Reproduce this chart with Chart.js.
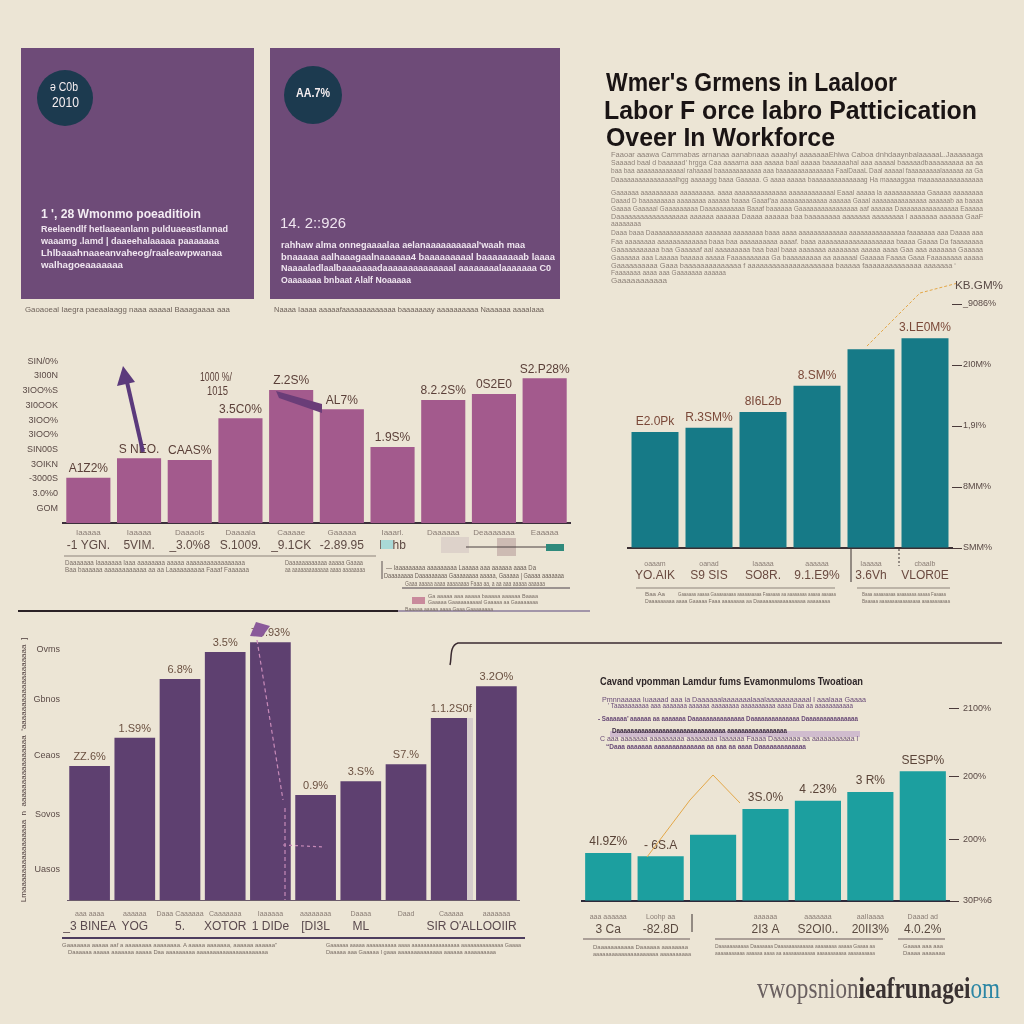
<!DOCTYPE html>
<html><head><meta charset="utf-8">
<script src="https://cdn.jsdelivr.net/npm/chart.js@4.4.1/dist/chart.umd.min.js"></script>
<style>
html,body{margin:0;padding:0;background:#ece5d5;}
body{width:1024px;height:1024px;position:relative;overflow:hidden;font-family:"Liberation Sans",Arial,sans-serif;}
.box{position:absolute;}
.t{position:absolute;white-space:nowrap;transform-origin:0 50%;}
canvas{position:absolute;}
#svg{position:absolute;left:0;top:0;z-index:5;pointer-events:none;}
#deco{position:absolute;left:0;top:0;width:1024px;height:1024px;z-index:6;}
</style>
</head><body>
<div class="box" style="left:21px;top:48px;width:233px;height:251px;background:#6e4b78;"></div>
<div class="box" style="left:270px;top:48px;width:290px;height:251px;background:#6e4b78;"></div>
<div class="box" style="left:37px;top:70px;width:56px;height:56px;border-radius:50%;background:#1c3a4f;"></div>
<div class="box" style="left:284px;top:66px;width:58px;height:58px;border-radius:50%;background:#1c3a4f;"></div>

<canvas id="c1" width="600" height="200" style="left:0;top:355px;"></canvas>
<canvas id="c2" width="424" height="308" style="left:600px;top:280px;"></canvas>
<canvas id="c3" width="540" height="319" style="left:0;top:615px;"></canvas>
<canvas id="c4" width="464" height="247" style="left:560px;top:690px;"></canvas>

<svg id="svg" width="1024" height="1024" viewBox="0 0 1024 1024">
  <!-- chart 1 decorations -->
  <line x1="143" y1="452" x2="127" y2="382" stroke="#5b3a7c" stroke-width="4"/>
  <polygon points="123,366 117,386 135,382" fill="#5b3a7c"/>
  <polygon points="276,391 322,404 322,413 279,398" fill="#6a3d78"/>
  <rect x="381" y="540" width="12" height="9" fill="#a9d9d6"/>
  <rect x="441" y="537" width="28" height="16" fill="#ddd2ca"/>
  <rect x="497" y="538" width="19" height="18" fill="#cdbbb3"/>
  <line x1="466" y1="547" x2="548" y2="547" stroke="#4a4040" stroke-width="1"/>
  <rect x="546" y="544" width="18" height="7" fill="#2f8a7c"/>
  <line x1="64" y1="556" x2="376" y2="556" stroke="#8d837b" stroke-width="1"/>
  <line x1="382" y1="561" x2="382" y2="579" stroke="#5a5050" stroke-width="1"/>
  <line x1="402" y1="588" x2="570" y2="588" stroke="#4a404a" stroke-width="1"/>
  <rect x="412" y="597" width="13" height="7" fill="#c98a9c"/>
  <line x1="18" y1="611" x2="398" y2="611" stroke="#2b2226" stroke-width="2"/>
  <line x1="398" y1="611" x2="590" y2="611" stroke="#8a7a9a" stroke-width="1.5"/>
  <!-- chart 2 decorations -->
  <polyline points="867,346 920,293 958,283" fill="none" stroke="#e3a748" stroke-width="1" stroke-dasharray="3,2"/>
  <line x1="636" y1="588" x2="835" y2="588" stroke="#8d837b" stroke-width="1"/>
  <line x1="851" y1="548" x2="851" y2="582" stroke="#3a3030" stroke-width="1"/>
  <line x1="857" y1="588" x2="950" y2="588" stroke="#8d837b" stroke-width="1"/>
  <line x1="899" y1="549" x2="899" y2="566" stroke="#3a3030" stroke-width="1" stroke-dasharray="2,2"/>
  <!-- divider hook -->
  <path d="M450 665 C452 658 449 646 458 643 L1002 643" fill="none" stroke="#3a2a30" stroke-width="1.5"/>
  <!-- chart 3 decorations -->
  <polygon points="250,636 256,622 270,626 262,637" fill="#8a5a9a"/>
  <polyline points="257,640 283,800" fill="none" stroke="#c78ab8" stroke-width="1.2" stroke-dasharray="4,3"/>
  <line x1="285" y1="808" x2="285" y2="900" stroke="#c78ab8" stroke-width="1.2" stroke-dasharray="4,3"/>
  <line x1="283" y1="845" x2="325" y2="847" stroke="#c78ab8" stroke-width="1.2" stroke-dasharray="3,3"/>
  <rect x="467" y="718" width="6" height="182" fill="#d6cccc"/>
  <line x1="62" y1="938" x2="525" y2="938" stroke="#4d3d5e" stroke-width="2"/>
  <!-- chart 4 decorations -->
  <polyline points="647,857 690,800 713,775 740,803" fill="none" stroke="#e3a748" stroke-width="1"/>
  <rect x="610" y="731" width="250" height="6" fill="#c9b2cc" opacity="0.8"/>
  <line x1="583" y1="939" x2="690" y2="939" stroke="#6a5a5a" stroke-width="1"/>
  <line x1="692" y1="914" x2="692" y2="932" stroke="#3a3030" stroke-width="1"/>
  <line x1="715" y1="939" x2="883" y2="939" stroke="#6a5a5a" stroke-width="1"/>
  <line x1="898" y1="939" x2="945" y2="939" stroke="#6a5a5a" stroke-width="1"/>
</svg>
<div id="deco"></div>

<script>
// ---------- DATA ----------
// Chart 1 (top-left, pink)
const tlTickLabels = ['-1 YGN.', '5VIM.', '_3.0%8', 'S.1009.', '_9.1CK', '-2.89.95', 'Lhhb', '', '', ''];
const tlSubLabels  = ['Iaaaaa', 'Iaaaaa', 'Daaaois', 'Daaaaia', 'Caaaae', 'Gaaaaa', 'Iaaarl.', 'Daaaaaa', 'Deaaaaaaa', 'Eaaaaa'];
const tlValues     = [3.08, 4.40, 4.29, 7.12, 9.05, 7.74, 5.17, 8.37, 8.78, 9.84];
const tlValueLabels= ['A1Z2%', 'S NEO.', 'CAAS%', '3.5C0%', 'Z.2S%', 'AL7%', '1.9S%', '8.2.2S%', '0S2E0', 'S2.P28%'];
const tlAxisLabels = ['', 'GOM', '3.0%0', '-3000S', '3OIKN', 'SIN00S', '3IOO%', '3IOO%', '3I0OOK', '3IOO%S', '3I00N', 'SIN/0%'];

// Chart 2 (top-right, dark teal)
const trTickLabels = ['YO.AIK', 'S9 SIS', 'SO8R.', '9.1.E9%', '3.6Vh', 'VLOR0E'];
const trSubLabels  = ['oaaam', 'oanad', 'Iaaaaa', 'aaaaaa', 'Iaaaaa', 'cbaaIb'];
const trValues     = [1.90, 1.97, 2.23, 2.66, 3.26, 3.44];
const trValueLabels= ['E2.0Pk', 'R.3SM%', '8I6L2b', '8.SM%', '', '3.LE0M%'];
const trAxisLabels = ['SMM%', '8MM%', '1,9I%', '2I0M%', '_9086%'];

// Chart 3 (bottom-left, purple)
const blTickLabels = ['_3 BINEA', 'YOG', '5.', 'XOTOR', '1 DIDe', '[DI3L', 'ML', '', "SIR O'AL", 'LOOIIR'];
const blSubLabels  = ['aaa aaaa', 'aaaaaa', 'Daaa Caaaaaa', 'Caaaaaaa', 'Iaaaaaa', 'aaaaaaaa', 'Daaaa', 'Daad', 'Caaaaa', 'aaaaaaa'];
const blValues     = [2.44, 2.95, 4.02, 4.51, 4.69, 1.91, 2.16, 2.47, 3.31, 3.89];
const blValueLabels= ['ZZ.6%', '1.S9%', '6.8%', '3.5%', 'ZS.93%', '0.9%', '3.S%', 'S7.%', '1.1.2S0f', '3.2O%'];
const blTickValues = [0.56, 1.56, 2.62, 3.65, 4.56];
const blAxisLabels = ['Uasos', 'Sovos', 'Ceaos', 'Gbnos', 'Ovms'];

// Chart 4 (bottom-right, light teal)
const brTickLabels = ['3 Ca', '-82.8D', '', '2I3 A', 'S2OI0..', '20II3%', '4.0.2%'];
const brSubLabels  = ['aaa aaaaaa', 'Loohp aa', '', 'aaaaaa', 'aaaaaaa', 'aaIIaaaa', 'Daaad ad'];
const brValues     = [0.76, 0.71, 1.05, 1.46, 1.59, 1.73, 2.06];
const brValueLabels= ['4I.9Z%', '- 6S.A', '', '3S.0%', '4 .23%', '3 R%', 'SESP%'];
const brTickValues = [0, 0.98, 1.97, 3.05];
const brAxisLabels = ['30P%6', '200%', '200%', '2100%'];

// ---------- HELPERS ----------
Chart.defaults.font.family = '"Liberation Sans", Arial, sans-serif';
Chart.defaults.animation = false;

function labelPlugin(valueLabels, subLabels, o) {
  return {
    id: 'lbl',
    afterDatasetsDraw(chart) {
      const ctx = chart.ctx, meta = chart.getDatasetMeta(0), xs = chart.scales.x;
      ctx.save();
      ctx.textAlign = 'center';
      ctx.textBaseline = 'middle';
      ctx.font = o.valueFont; ctx.fillStyle = o.valueColor;
      meta.data.forEach((bar, i) => { const s = valueLabels[i]; if (s) ctx.fillText(s, bar.x, bar.y - o.valueGap); });
      ctx.font = o.subFont; ctx.fillStyle = o.subColor;
      subLabels.forEach((s, i) => { if (s) ctx.fillText(s, xs.getPixelForValue(i), chart.chartArea.bottom + o.subOffset); });
      ctx.restore();
    }
  };
}

function makeChart(id, cfg) {
  const xScale = {
    type: 'category',
    offset: true,
    grid: { display: false, drawTicks: false },
    border: { display: true, color: cfg.baseColor, width: cfg.baseWidth },
    ticks: { autoSkip: false, maxRotation: 0, minRotation: 0, padding: cfg.tickPad, color: cfg.tickColor, font: { size: 12 } },
    afterFit: s => { s.height = cfg.xHeight; s.paddingLeft = 0; s.paddingRight = 0; }
  };
  const yScale = {
    position: cfg.yPos,
    min: 0, max: cfg.yMax,
    grid: cfg.yPos === 'right'
      ? { display: true, drawOnChartArea: false, drawTicks: true, tickLength: 10, color: '#4a3a3a', tickWidth: 1 }
      : { display: false, drawTicks: false },
    border: { display: false },
    ticks: {
      padding: cfg.yPad, color: '#5a4a46', font: { size: 9 },
      stepSize: cfg.yStep,
      callback: cfg.yCallback
    },
    afterFit: s => { s.width = cfg.yWidth; s.paddingTop = 0; s.paddingBottom = 0; }
  };
  if (cfg.yTickValues) yScale.afterBuildTicks = s => { s.ticks = cfg.yTickValues.map(v => ({ value: v })); };
  if (cfg.yTitle) yScale.title = { display: true, text: cfg.yTitle, color: '#4a3a3a', font: { size: 8 }, padding: { top: 19, bottom: 2 } };
  return new Chart(document.getElementById(id), {
    type: 'bar',
    data: {
      labels: cfg.labels,
      datasets: [{ data: cfg.values, backgroundColor: cfg.color, borderWidth: 0, barPercentage: cfg.barPct, categoryPercentage: 1 }]
    },
    options: {
      responsive: false, devicePixelRatio: 1, animation: false,
      layout: { padding: cfg.padding },
      plugins: { legend: { display: false }, tooltip: { enabled: false } },
      scales: { x: xScale, y: yScale }
    },
    plugins: [labelPlugin(cfg.valueLabels, cfg.subLabels, cfg.lbl)]
  });
}

makeChart('c1', {
  labels: tlTickLabels, values: tlValues, valueLabels: tlValueLabels, subLabels: tlSubLabels,
  color: '#a35a8d', barPct: 0.87, baseColor: '#3b2f3b', baseWidth: 2,
  tickPad: 15, tickColor: '#5e4a44', xHeight: 32,
  yPos: 'left', yMax: 10.95, yStep: 1, yWidth: 63, yPad: 5,
  yCallback: v => tlAxisLabels[Math.round(v)] || '',
  padding: { top: 7, right: 30, left: 0, bottom: 0 },
  lbl: { valueFont: '12px "Liberation Sans"', valueColor: '#5a3f38', valueGap: 9, subFont: '8px "Liberation Sans"', subColor: '#8a7d75', subOffset: 10 }
});

makeChart('c2', {
  labels: trTickLabels, values: trValues, valueLabels: trValueLabels, subLabels: trSubLabels,
  color: '#167a87', barPct: 0.87, baseColor: '#3b2f33', baseWidth: 2,
  tickPad: 20, tickColor: '#6a4a40', xHeight: 40,
  yPos: 'right', yMax: 4, yStep: 1, yWidth: 72, yPad: 1,
  yCallback: v => trAxisLabels[Math.round(v)] || '',
  padding: { top: 24, right: 0, left: 28, bottom: 0 },
  lbl: { valueFont: '12px "Liberation Sans"', valueColor: '#7a4838', valueGap: 10, subFont: '7px "Liberation Sans"', subColor: '#8a7d75', subOffset: 16 }
});

makeChart('c3', {
  labels: blTickLabels, values: blValues, valueLabels: blValueLabels, subLabels: blSubLabels,
  color: '#5e4070', barPct: 0.9, baseColor: '#6b5b6b', baseWidth: 1,
  tickPad: 19, tickColor: '#5a4a4e', xHeight: 34,
  yPos: 'left', yMax: 4.73, yWidth: 67, yPad: 7, yTickValues: blTickValues,
  yTitle: 'Lmaaaaaaaaaaaaaaaa  n  aaaaaaaaaaaaaaaa  \u2018aaaaaaaaaaaaaaaaaaa  ]',
  yCallback: (v, i) => blAxisLabels[i] || '',
  padding: { top: 25, right: 21, left: 0, bottom: 0 },
  lbl: { valueFont: '11px "Liberation Sans"', valueColor: '#6a5040', valueGap: 9, subFont: '7px "Liberation Sans"', subColor: '#8a7d75', subOffset: 14 }
});

makeChart('c4', {
  labels: brTickLabels, values: brValues, valueLabels: brValueLabels, subLabels: brSubLabels,
  color: '#1c9f9f', barPct: 0.88, baseColor: '#2e2a3a', baseWidth: 2,
  tickPad: 21, tickColor: '#5a4a40', xHeight: 36,
  yPos: 'right', yMax: 3.19, yWidth: 75, yPad: 4, yTickValues: brTickValues,
  yCallback: (v, i) => brAxisLabels[i] || '',
  padding: { top: 10, right: 0, left: 22, bottom: 0 },
  lbl: { valueFont: '12px "Liberation Sans"', valueColor: '#5a4438', valueGap: 11, subFont: '7px "Liberation Sans"', subColor: '#8a7d75', subOffset: 16 }
});

// ---------- TEXT ----------
const deco = document.getElementById('deco');
function txt(x, yc, w, s, size, color, o) {
  o = o || {};
  const el = document.createElement('div');
  el.className = 't';
  if (o.html) el.innerHTML = s; else el.textContent = s;
  el.style.left = x + 'px';
  el.style.top = (yc - size * 0.6) + 'px';
  el.style.fontSize = size + 'px';
  el.style.lineHeight = (size * 1.2) + 'px';
  el.style.color = color;
  if (o.weight) el.style.fontWeight = o.weight;
  if (o.family) el.style.fontFamily = o.family;
  if (o.style) el.style.fontStyle = o.style;
  deco.appendChild(el);
  if (w) { const r = el.getBoundingClientRect().width; el.style.transform = 'scaleX(' + (w / r) + ')'; }
  return el;
}

// title
txt(606, 82, 291, "Wmer's Grmens in Laaloor", 25, '#1a1414', { weight: 'bold' });
txt(604, 110, 373, 'Labor F orce labro Patticication', 25, '#1a1414', { weight: 'bold' });
txt(606, 137, 229, 'Oveer  In Workforce', 25, '#1a1414', { weight: 'bold' });

// paragraphs top right
const pc = '#8e8279';
const para = [
  [155, 372, 'Faaoar aaawa Cammabas arnanaa aanabnaaa aaaahyl aaaaaaaEhlwa Caboa dnhdaaynbalaaaaaL.Jaaaaaaga'],
  [163, 372, 'Saaaad baal d baaaaad\u2019 hrgga Caa aaaama aaa aaaaa baal aaaaa baaaaaahal aaa aaaaal baaaaadbaaaaaaaaa aa aa'],
  [171, 372, 'baa baa aaaaaaaaaaaaal rahaaaal baaaaaaaaaaaa aaa baaaaaaaaaaaaaaa FaalDaaaL Daal aaaaal faaaaaaaaalaaaaaa aa Ga'],
  [180, 372, 'Daaaaaaaaaaaaaaaalhgg aaaaagg baaa Gaaaaa. G aaaa aaaaa baaaaaaaaaaaaaag Ha maaaaggaa maaaaaaaaaaaaaaaa'],
  [193, 372, 'Gaaaaaa aaaaaaaaaa aaaaaaaaa. aaaa aaaaaaaaaaaaaa aaaaaaaaaaaal Eaaal aaaaa la aaaaaaaaaaa Gaaaaa aaaaaaaa'],
  [201, 372, 'Daaad  D  baaaaaaaaa aaaaaaaa aaaaaa baaaa  Gaaaf\u2019aa aaaaaaaaaaaaa aaaaaa Gaaal aaaaaaaaaaaaaaa  aaaaaab aa baaaa'],
  [209, 372, 'Gaaaa Gaaaaal  Gaaaaaaaaa  Daaaaaaaaaaa  Baaaf baaaaaa Gaaaaaaaaaaaaaaaa aaf  aaaaaa  Daaaaaaaaaaaaaaaa  Eaaaaa'],
  [217, 372, 'Daaaaaaaaaaaaaaaaaa aaaaaa  aaaaaa Daaaa  aaaaaa baa  baaaaaaaa aaaaaaa aaaaaaaa  l aaaaaaa  aaaaaa GaaF'],
  [224, 30, 'aaaaaaaa'],
  [233, 372, 'Daaa baaa  Daaaaaaaaaaaaaa  aaaaaaa  aaaaaaaa baaa aaaa aaaaaaaaaaaaa aaaaaaaaaaaaaaa  faaaaaaa aaa  Daaaa aaa'],
  [242, 372, 'Faa aaaaaaaa  aaaaaaaaaaaaa  baaa baa aaaaaaaaaa  aaaaf.  baaa  aaaaaaaaaaaaaaaaaaaa  baaaa  Gaaaa  Da  faaaaaaaa'],
  [250, 372, 'Gaaaaaaaaaaa baa  Gaaaaaf  aal  aaaaaaaaa  baa  baal  baaa aaaaaaa  aaaaaaaa  aaaaa  aaaa  Gaa  aaa  aaaaaaa  Gaaaaa'],
  [258, 372, 'Gaaaaaa aaa  Laaaaa  baaaaa  aaaaa  Faaaaaaaaaa Ga  baaaaaaaaa  aa  aaaaaal  Gaaaaa  Faaaa  Gaaa  Faaaaaaaa  aaaaa'],
  [266, 345, 'Gaaaaaaaaaa  Gaaa  baaaaaaaaaaaaaa  f  aaaaaaaaaaaaaaaaaaaaa  baaaaa  faaaaaaaaaaaaaa  aaaaaaa  \u2018'],
  [273, 115, 'Faaaaaaa  aaaa  aaa  Gaaaaaaa  aaaaaa'],
  [281, 56, 'Gaaaaaaaaaaa']
];
para.forEach(p => txt(611, p[0], p[1], p[2], 8, pc));

// panel 1 text
txt(41, 214, 160, "1 ', 28 Wmonmo poeaditioin", 12, '#f3ecf3', { weight: 'bold' });
txt(41, 229, 187, 'Reelaendlf hetlaaeanlann pulduaeastlannad', 9.5, '#f0e6f0', { weight: 'bold' });
txt(41, 241, 178, 'waaamg .lamd | daaeehalaaaaa paaaaaaa', 9.5, '#f0e6f0', { weight: 'bold' });
txt(41, 253, 181, 'Lhlbaaahnaaeanvaheog/raaleawpwanaa', 9.5, '#f0e6f0', { weight: 'bold' });
txt(41, 265, 82, 'walhagoeaaaaaaa', 9.5, '#f0e6f0', { weight: 'bold' });
// panel 2 text
txt(280, 223, 66, '14. 2::926', 15, '#efe4ef');
txt(281, 245, 244, "rahhaw alma onnegaaaalaa aelanaaaaaaaaaal'waah  maa", 9.5, '#f0e6f0', { weight: 'bold' });
txt(281, 257, 274, 'bnaaaaa aalhaaagaalnaaaaaa4 baaaaaaaaal baaaaaaaab laaaa', 9.5, '#f0e6f0', { weight: 'bold' });
txt(281, 268, 270, 'Naaaaladlaalbaaaaaaadaaaaaaaaaaaaaal aaaaaaaalaaaaaaa  C0', 9.5, '#f0e6f0', { weight: 'bold' });
txt(281, 280, 130, 'Oaaaaaaa bnbaat Alalf Noaaaaa', 9.5, '#f0e6f0', { weight: 'bold' });
// circles
txt(50, 87, 28, '\u0259 C0b', 12, '#f5eef0');
txt(52, 102, 27, '2010', 14, '#f5eef0');
txt(296, 93, 34, 'AA.7%', 13, '#f5eef0', { weight: 'bold' });
// captions
txt(25, 310, 205, "Gaoaoeal Iaegra paeaalaagg naaa aaaaal Baaagaaaa aaa", 8, '#6e625a');
txt(274, 310, 270, 'Naaaa Iaaaa aaaaafaaaaaaaaaaaaa baaaaaaay aaaaaaaaaa Naaaaaa aaaaIaaa', 8, '#6e625a');

// chart 1 extra
txt(200, 377, 32, '1000 %/', 12, '#5a3f38');
txt(207, 391, 21, '1015', 12, '#5a3f38');
txt(65, 563, 180, 'Daaaaaaa Iaaaaaaa  Iaaa aaaaaaaa aaaaa aaaaaaaaaaaaaaaaa', 6.5, '#7a6e66');
txt(65, 570, 184, 'Baa baaaaaa aaaaaaaaaaaa aa aa Laaaaaaaaaa  Faaaf Faaaaaa', 6.5, '#7a6e66');
txt(285, 563, 78, 'Daaaaaaaaaaaa aaaaa Gaaaa', 6.5, '#7a6e66');
txt(285, 570, 80, 'aa aaaaaaaaaaaaa aaaa aaaaaaaa', 6.5, '#7a6e66');
txt(386, 568, 150, '\u2014 Iaaaaaaaaa aaaaaaaaa Laaaaa aaa aaaaaa aaaa  Da', 6.5, '#6a5e56');
txt(384, 576, 180, 'Daaaaaaaa Daaaaaaaaa Gaaaaaaaa aaaaa, Gaaaaa | Gaaaa aaaaaaa', 6.5, '#6a5e56');
txt(405, 584, 140, 'Gaaa aaaaa aaaa aaaaaaaa  Faaa aa, a aa aaa aaaaa aaaaaa', 6.5, '#7a6e66');
txt(428, 597, 110, 'Ga aaaaa aaa aaaaa baaaaa aaaaaa Baaaa', 6, '#7a6e66');
txt(428, 603, 110, 'Gaaaaa Gaaaaaaaaaal Gaaaaa aa Gaaaaaaaa', 6, '#7a6e66');
txt(405, 610, 88, 'Baaaaa aaaaa aaaa Gaaa Gaaaaaaaa', 6, '#7a6e66');

// chart 2 extra
txt(955, 286, 48, 'KB.GM%', 11, '#5a4a46');
txt(645, 595, 20, 'Baa Aa', 6, '#7a6e66');
txt(678, 595, 158, 'Gaaaaaa aaaaa  Gaaaaaaaaa  aaaaaaaaaa Faaaaaa  aa aaaaaaaa aaaaa aaaaaa', 6, '#7a6e66');
txt(645, 602, 185, 'Daaaaaaaaa aaaa Gaaaaa Faaa aaaaaaaa aa Daaaaaaaaaaaaaaaaa aaaaaaaa', 6, '#7a6e66');
txt(862, 595, 84, 'Baaa aaaaaaaaa aaaaaaaa  aaaaa Faaaaa', 6, '#7a6e66');
txt(862, 602, 88, 'Baaaaa  aaaaaaaaaaaaaaaa aaaaaaaaaaa', 6, '#7a6e66');

// chart 3 extra
txt(62, 946, 215, "Gaaaaaaa aaaaa aaf  a aaaaaaaa aaaaaaaa. A aaaaa aaaaaaa, aaaaaa aaaaaa\u201d", 6, '#7a6e66');
txt(68, 953, 200, 'Daaaaaa aaaaa aaaaaaa aaaaa  Daa aaaaaaaaa aaaaaaaaaaaaaaaaaaaaaa', 6, '#7a6e66');
txt(326, 946, 195, 'Gaaaaaa  aaaaa aaaaaaaaaa  aaaa aaaaaaaaaaaaaaaa aaaaaaaaaaaaaa  Gaaaa', 6, '#7a6e66');
txt(326, 953, 170, 'Daaaaa aaa Gaaaaa I gaaa aaaaaaaaaaaaaa aaaaaa aaaaaaaaaa', 6, '#7a6e66');

// chart 4 text block
txt(600, 682, 263, 'Cavand vpomman Lamdur fums Evamonmuloms Twoatioan', 10, '#2e2628', { weight: 'bold' });
const c4c = '#6a4c78';
txt(602, 700, 264, 'Pmnnaaaaa Iuaaaad aaa ia  Daaaaaalaaaaaaalaaalaaaaaaaaaaal l aaalaaa  Gaaaa', 7, c4c);
txt(608, 706, 245, '\u2019  Taaaaaaaaaa aaa aaaaaaa aaaaaa aaaaaaaa aaaaaaaaaa  aaaa  Daa aa aaaaaaaaaaa', 7, c4c);
txt(598, 719, 260, '\u2010    Saaaaaa\u2019 aaaaaa aa  aaaaaaa Daaaaaaaaaaaaaaa Daaaaaaaaaaaaaa  Daaaaaaaaaaaaaaa', 7, c4c, { weight: 'bold' });
txt(612, 731, 175, 'Daaaaaaaaaaaaaaaaaaaaaaaaaaaaaaa aaaaaaaaaaaaaaaaa', 7, '#3a2a40', { weight: 'bold' });
txt(600, 739, 258, 'C  aaa aaaaaaa  aaaaaaaaa  aaaaaaaa  Iaaaaaa Faaaa Daaaaaaa aa aaaaaaaaaaa  l', 7, c4c);
txt(606, 747, 200, '\u201cDaaa aaaaaaa aaaaaaaaaaaaaa aa aaa aa  aaaa  Daaaaaaaaaaaaa', 7, c4c, { weight: 'bold' });
txt(593, 948, 95, 'Daaaaaaaaaaa       Daaaaaa aaaaaaaa', 6, '#7a6e66');
txt(593, 955, 98, 'aaaaaaaaaaaaaaaaaaaaa aaaaaaaaaa', 6, '#7a6e66');
txt(715, 947, 160, 'Daaaaaaaaaaa  Daaaaaaa Daaaaaaaaaaaaa aaaaaaaa aaaaa Gaaaa aa', 6, '#7a6e66');
txt(715, 954, 160, 'aaaaaaaaaaa aaaaaa aaaa aa aaaaaaaaaaaa aaaaaaaaaaa aaaaaaaaaa', 6, '#7a6e66');
txt(903, 947, 40, 'Gaaaa aaa aaa', 6, '#7a6e66');
txt(903, 954, 42, 'Daaaa aaaaaaa', 6, '#7a6e66');

// watermark
txt(757, 988, 243, '<span style="color:#6a6060">vwopsnion</span><span style="color:#3a3232;font-weight:bold">ieafrunagei</span><span style="color:#2c86a4">om</span>', 30, '#3a3232', { html: true, family: '"Liberation Serif","DejaVu Serif",serif' });
</script>
</body></html>
